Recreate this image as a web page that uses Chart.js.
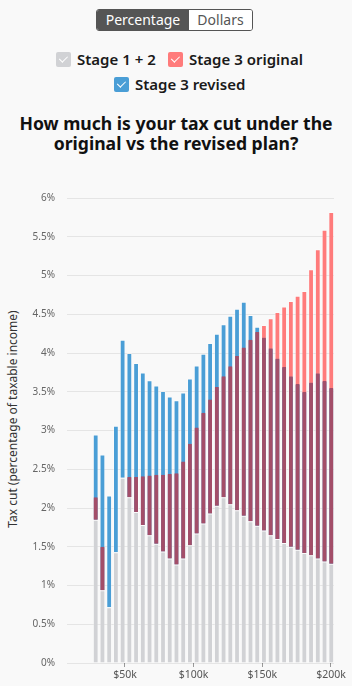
<!DOCTYPE html>
<html>
<head>
<meta charset="utf-8">
<script src="https://cdn.jsdelivr.net/npm/chart.js@4.4.1/dist/chart.umd.min.js"></script>
<style>
  body { margin: 0; width: 352px; height: 686px; overflow: hidden; position: relative; background: #f9f9f9; font-family: 'Noto Sans', sans-serif; color: #1a1a1a; }
  .toggle { position: absolute; left: 96px; top: 9px; height: 20px; display: flex; border: 1px solid #555; border-radius: 3px; overflow: hidden; font-size: 14px; line-height: 20px; }
  .toggle span { display: block; text-align: center; }
  .toggle .on { width: 92px; background: #555; color: #fff; }
  .toggle .off { width: 63px; background: #fff; color: #555; }
  .item { position: absolute; height: 16px; display: flex; align-items: center; font-size: 15px; font-weight: 600; white-space: nowrap; }
  .box { width: 15px; height: 15px; border-radius: 2px; margin-right: 6px; position: relative; flex: none; }
  .box::after { content: ''; position: absolute; left: 5px; top: 2.5px; width: 3.5px; height: 7px; border: solid #fff; border-width: 0 1.5px 1.5px 0; transform: rotate(45deg); }
  .title { position: absolute; left: 0; top: 114px; width: 352px; text-align: center; font-size: 17.6px; font-weight: 700; line-height: 19.5px; color: #111; }
  .ytitle { position: absolute; left: 12px; top: 419px; transform: translate(-50%, -50%) rotate(-90deg); font-size: 12px; color: #333; white-space: nowrap; }
  #wrap { position: absolute; left: 0; top: 180px; width: 352px; height: 506px; }
</style>
</head>
<body>
<div class="toggle"><span class="on">Percentage</span><span class="off">Dollars</span></div>

<div class="item" style="left:56px; top:51px;"><span class="box" style="background:#d1d2d5"></span>Stage 1 + 2</div>
<div class="item" style="left:168px; top:51px;"><span class="box" style="background:#ff7b7b"></span>Stage 3 original</div>
<div class="item" style="left:114px; top:76px;"><span class="box" style="background:#4a9ed6"></span>Stage 3 revised</div>

<div class="title">How much is your tax cut under the<br>original vs the revised plan?</div>
<div class="ytitle">Tax cut (percentage of taxable income)</div>

<div id="wrap"><canvas id="taxChart" width="352" height="506"></canvas></div>

<script>
// taxable income of each bar
const incomes = [28700, 33600, 38500, 43400, 48300, 53200, 58100, 63000, 67900, 72800, 77700, 82600,
  87500, 92400, 97300, 102200, 107100, 112000, 116900, 121800, 126700, 131600, 136500, 141400,
  146300, 151200, 156100, 161000, 165900, 170800, 175700, 180600, 185500, 190400, 195300, 200200];

// tax cut, % of taxable income
const stage12 = [1.85, 0.94, 0.72, 1.43, 2.39, 2.14, 1.95, 1.78, 1.65, 1.54, 1.44, 1.35,
  1.27, 1.35, 1.52, 1.67, 1.80, 1.93, 2.03, 2.14, 2.05, 1.97, 1.90, 1.83,
  1.77, 1.71, 1.65, 1.60, 1.55, 1.50, 1.46, 1.42, 1.39, 1.35, 1.31, 1.28];
const stage3Original = [0.29, 0.56, 0, 0, 0, 0.26, 0.45, 0.63, 0.77, 0.89, 0.99, 1.09,
  1.18, 1.25, 1.31, 1.37, 1.43, 1.47, 1.53, 1.56, 1.78, 1.99, 2.17, 2.34,
  2.50, 2.65, 2.80, 2.93, 3.05, 3.17, 3.28, 3.38, 3.69, 3.99, 4.28, 4.54];
const stage3Revised = [1.10, 1.75, 1.44, 1.63, 1.78, 1.86, 1.92, 1.97, 2.00, 2.04, 2.07, 2.09,
  2.12, 2.14, 2.15, 2.17, 2.19, 2.20, 2.22, 2.23, 2.43, 2.60, 2.76, 2.66,
  2.57, 2.49, 2.41, 2.33, 2.27, 2.20, 2.14, 2.08, 2.23, 2.39, 2.33, 2.27];

const xTickValues = [50000, 100000, 150000, 200000];

const floating = (from, to) => incomes.map((x, i) => ({ x, y: [from(i), to(i)] }));

const grayBars = floating(() => 0, (i) => stage12[i]);
const originalBars = floating((i) => stage12[i], (i) => stage12[i] + stage3Original[i]);
const revisedBars = floating((i) => stage12[i], (i) => stage12[i] + stage3Revised[i]);
const bothBars = floating((i) => stage12[i], (i) => stage12[i] + Math.min(stage3Original[i], stage3Revised[i]));

const barStyle = {
    grouped: false,
    categoryPercentage: 1,
    barPercentage: 0.86,
    borderSkipped: 'start'
};

new Chart(document.getElementById('taxChart'), {
    type: 'bar',
    data: {
        datasets: [
            { ...barStyle, label: 'Both', data: bothBars, backgroundColor: '#a34e69', borderColor: 'rgba(255,255,255,0.15)', borderWidth: { left: 1, right: 1, top: 0, bottom: 0 }, order: 0 },
            { ...barStyle, label: 'Stage 3 revised', data: revisedBars, backgroundColor: '#4a9ed6', borderColor: 'rgba(255,255,255,0.3)', borderWidth: 1, order: 1 },
            { ...barStyle, label: 'Stage 3 original', data: originalBars, backgroundColor: '#ff7b7b', borderColor: 'rgba(255,255,255,0.3)', borderWidth: 1, order: 1 },
            { ...barStyle, label: 'Stage 1 + 2', data: grayBars, backgroundColor: '#d1d2d5', borderColor: 'rgba(255,255,255,0.2)', borderWidth: 1, order: 2 }
        ]
    },
    options: {
        responsive: false,
        devicePixelRatio: 1,
        animation: false,
        layout: { padding: { top: 13, right: 18, left: 0, bottom: 0 } },
        plugins: {
            legend: { display: false },
            tooltip: { enabled: false }
        },
        scales: {
            x: {
                type: 'linear',
                min: 7800,
                max: 202200,
                offset: false,
                afterBuildTicks: (scale) => { scale.ticks = xTickValues.map((value) => ({ value })); },
                afterFit: (scale) => { scale.height = 23; },
                ticks: {
                    autoSkip: false,
                    maxRotation: 0,
                    padding: 2,
                    color: '#555',
                    font: { family: 'Noto Sans', size: 10.5 },
                    callback: (value) => '$' + value / 1000 + 'k'
                },
                grid: { offset: false, drawOnChartArea: false, drawTicks: true, tickLength: 4, color: '#999' },
                border: { display: false }
            },
            y: {
                min: 0,
                max: 6,
                z: 1,
                afterFit: (scale) => { scale.width = 67; },
                ticks: {
                    stepSize: 0.5,
                    padding: 12,
                    color: '#666',
                    font: { family: 'Noto Sans', size: 10 },
                    callback: (value) => value + '%'
                },
                grid: { color: 'rgba(0,0,0,0.08)', drawTicks: false },
                border: { display: false }
            }
        }
    }
});
</script>
</body>
</html>
